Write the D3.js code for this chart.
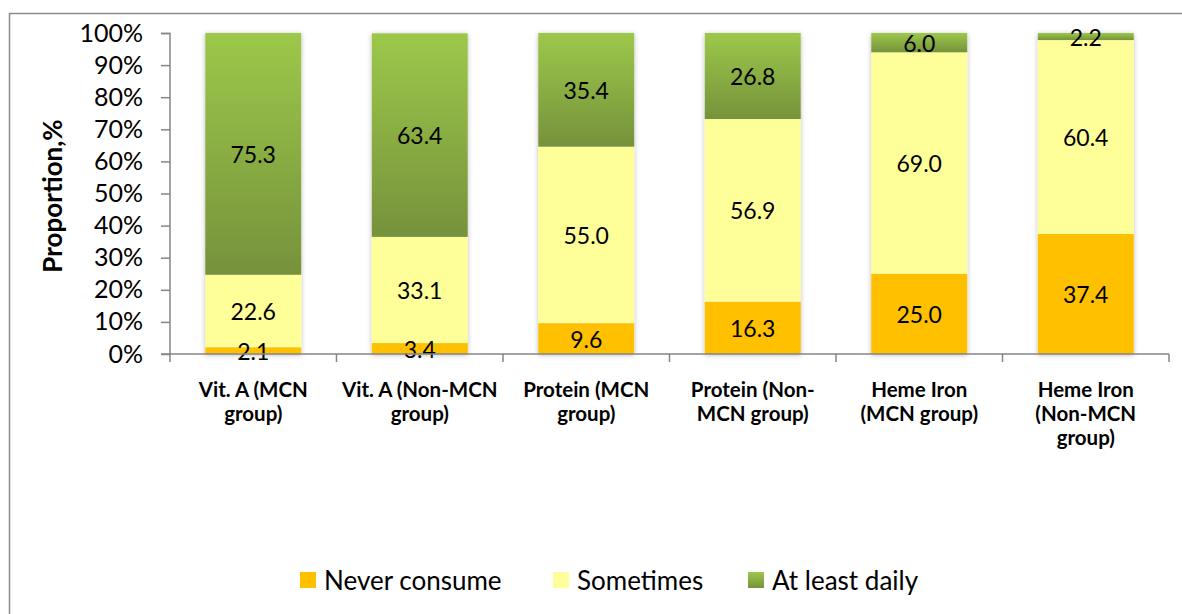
<!DOCTYPE html>
<meta charset="utf-8">
<script src="https://d3js.org/d3.v7.min.js"></script>
<style>
  body { margin: 0; background: #fff; }
  text { font-family: Lato, "Open Sans", sans-serif; }
</style>
<body>
<div id="my_dataviz"></div>
<script>
// categories (x labels split into lines)
var categories = [
    ["Vit. A (MCN", "group)"],
    ["Vit. A (Non-MCN", "group)"],
    ["Protein (MCN", "group)"],
    ["Protein (Non-", "MCN group)"],
    ["Heme Iron", "(MCN group)"],
    ["Heme Iron", "(Non-MCN", "group)"]
];
var seriesNames = ["Never consume", "Sometimes", "At least daily"];
var neverConsume = [2.1, 3.4, 9.6, 16.3, 25.0, 37.4];
var sometimes = [22.6, 33.1, 55.0, 56.9, 69.0, 60.4];
var atLeastDaily = [75.3, 63.4, 35.4, 26.8, 6.0, 2.2];
var yTicks = [0, 10, 20, 30, 40, 50, 60, 70, 80, 90, 100];

var W = 1182, H = 614;
var margin = {top: 33, left: 170, right: 12, bottom: 260};
var width = 1169 - margin.left,
    height = 354 - margin.top;

var svg = d3.select("#my_dataviz").append("svg")
    .attr("width", W).attr("height", H);

var defs = svg.append("defs");
var grad = defs.append("linearGradient")
    .attr("id", "green-grad")
    .attr("x1", 0).attr("y1", 0).attr("x2", 0).attr("y2", 1);
grad.append("stop").attr("offset", "0%").attr("stop-color", "#9cc84a");
grad.append("stop").attr("offset", "100%").attr("stop-color", "#76923c");

var shadow = defs.append("filter").attr("id", "shadow")
    .attr("x", "-20%").attr("y", "-20%").attr("width", "140%").attr("height", "140%");
shadow.append("feDropShadow")
    .attr("dx", 0).attr("dy", 1).attr("stdDeviation", 2.5)
    .attr("flood-color", "#000").attr("flood-opacity", 0.28);

// outer chart frame
svg.append("rect")
    .attr("x", 9.5).attr("y", 13.5)
    .attr("width", 1200).attr("height", 700)
    .attr("fill", "none").attr("stroke", "#8c8c8c").attr("stroke-width", 1.5);

var g = svg.append("g")
    .attr("transform", "translate(" + margin.left + "," + margin.top + ")");

var x = d3.scaleBand()
    .domain(d3.range(categories.length))
    .range([0, width])
    .paddingInner(0.424)
    .paddingOuter(0.212);

var y = d3.scaleLinear().domain([0, 100]).range([height, 0]);

var colors = ["#ffc000", "#ffff99", "url(#green-grad)"];
var rows = categories.map(function(c, i) {
    return {i: i, v0: neverConsume[i], v1: sometimes[i], v2: atLeastDaily[i]};
});
var stacked = d3.stack().keys(["v0", "v1", "v2"])(rows);

// bars with shadow
g.selectAll(".bar")
    .data(rows).enter().append("g")
    .attr("class", "bar")
    .attr("filter", "url(#shadow)");

stacked.forEach(function(layer, k) {
    g.selectAll(".bar").each(function(d, i) {
        var seg = layer[i];
        d3.select(this).append("rect")
            .attr("x", x(i))
            .attr("width", x.bandwidth())
            .attr("y", y(seg[1]))
            .attr("height", y(seg[0]) - y(seg[1]))
            .attr("fill", colors[k]);
    });
});

// data labels
stacked.forEach(function(layer, k) {
    g.selectAll(".lbl" + k)
        .data(layer).enter().append("text")
        .attr("x", function(d, i) { return x(i) + x.bandwidth() / 2; })
        .attr("y", function(d) { return y((d[0] + d[1]) / 2); })
        .attr("text-anchor", "middle")
        .attr("dominant-baseline", "central")
        .attr("font-size", 23)
        .attr("fill", "#000")
        .text(function(d) { return (d[1] - d[0]).toFixed(1); });
});

// y axis
var yAxis = g.append("g")
    .call(d3.axisLeft(y).tickValues(yTicks).tickSize(9).tickPadding(18)
        .tickFormat(function(d) { return d + "%"; }));
yAxis.selectAll("path, line").attr("stroke", "#868686").attr("stroke-width", 1.5);
yAxis.select(".domain").attr("d", "M-9,0.5H0V" + height + "H-9");
yAxis.selectAll("text").attr("font-size", 25).attr("fill", "#000")
    .attr("font-family", "Lato, sans-serif");

// x axis line + boundary ticks
var step = width / categories.length;
g.append("line")
    .attr("x1", 0).attr("x2", width)
    .attr("y1", height).attr("y2", height)
    .attr("stroke", "#868686").attr("stroke-width", 1.5);
g.selectAll(".xtick")
    .data(d3.range(categories.length + 1)).enter().append("line")
    .attr("x1", function(d) { return d * step; })
    .attr("x2", function(d) { return d * step; })
    .attr("y1", height).attr("y2", height + 8)
    .attr("stroke", "#868686").attr("stroke-width", 1.5);

// x labels
g.selectAll(".xlabel")
    .data(categories).enter().append("text")
    .attr("class", "xlabel")
    .attr("text-anchor", "middle")
    .attr("font-size", 20.5).attr("font-weight", "bold")
    .each(function(lines, i) {
        var t = d3.select(this);
        lines.forEach(function(line, j) {
            t.append("tspan")
                .attr("x", x(i) + x.bandwidth() / 2)
                .attr("y", height + 43 + j * 24)
                .text(line);
        });
    });

// y axis title
svg.append("text")
    .attr("transform", "translate(62,196) rotate(-90)")
    .attr("text-anchor", "middle")
    .attr("font-size", 26).attr("font-weight", "bold")
    .text("Proportion,%");

// legend
var legendX = [300, 553, 748];
var legend = svg.selectAll(".legend")
    .data(seriesNames).enter().append("g")
    .attr("transform", function(d, i) { return "translate(" + legendX[i] + ",572)"; });
legend.append("rect")
    .attr("width", 16).attr("height", 16)
    .attr("fill", function(d, i) { return colors[i]; });
legend.append("text")
    .attr("x", 24).attr("y", 8)
    .attr("dominant-baseline", "central")
    .attr("font-size", 26)
    .text(function(d) { return d; });
</script>
</body>
